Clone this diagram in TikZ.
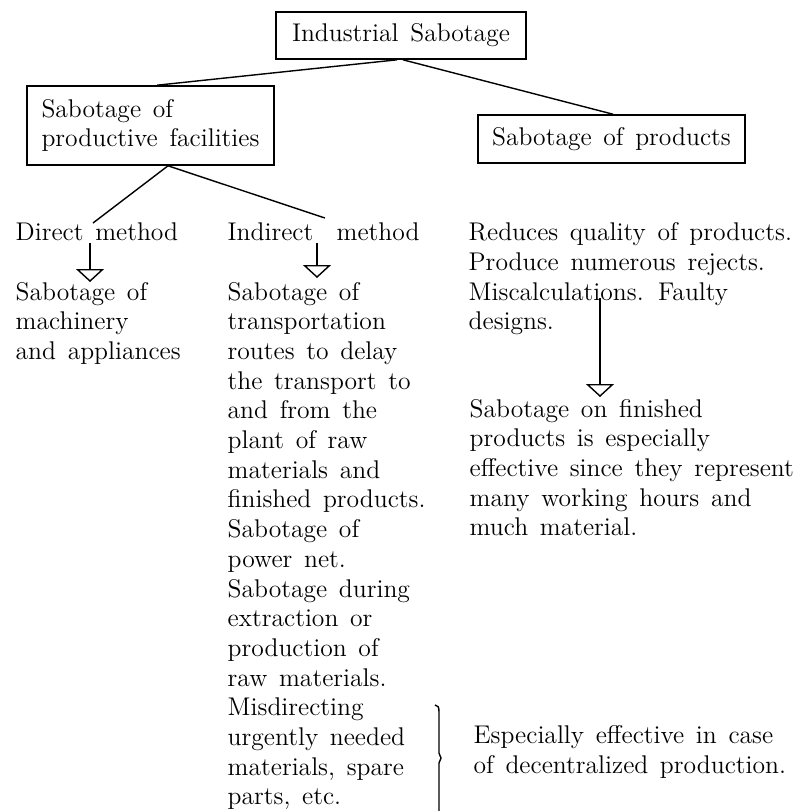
\documentclass[tikz,border=0pt]{standalone}
\usepackage{fontspec}
\setmainfont{Latin Modern Roman}[WordSpace=1.4]
\usetikzlibrary{arrows.meta}
\begin{document}
\begin{tikzpicture}[x=0.5pt,y=-0.5pt,line width=0.7pt,
  txt/.style={font=\fontsize{12.8}{14.85}\selectfont, align=left, inner sep=0pt, anchor=base west},
  box/.style={draw, line width=0.8pt, font=\fontsize{12.8}{14.85}\selectfont, align=left, inner sep=0pt},
  conn/.style={line width=0.7pt},
  openarrow/.style={conn, -{Triangle[open,width=14pt,length=6.5pt,line width=0.7pt]}}]
\useasboundingbox (0,0) rectangle (797,811);

% boxes
\node[box, minimum width=125pt, minimum height=23.5pt] (top) at (401,35.5) {Industrial Sabotage};
\node[box, minimum width=123.5pt, minimum height=39.5pt] (lbox) at (150.5,125.5) {Sabotage of\\productive facilities};
\node[box, minimum width=133.5pt, minimum height=24pt] (rbox) at (611.5,139) {Sabotage of products};

% texts (anchor base = baseline of the last line)
\node[txt] (direct) at (15,240) {Direct method};
\node[txt] (indirect) at (227,240) {Indirect\ \ method};
\node[txt] (dres) at (15,359.4) {Sabotage of\\machinery\\and appliances};
\node[txt] (ires) at (227,804.9) {Sabotage of\\transportation\\routes to delay\\the transport to\\and from the\\plant of raw\\materials and\\finished products.\\Sabotage of\\power net.\\Sabotage during\\extraction or\\production of\\raw materials.\\Misdirecting\\urgently needed\\materials, spare\\parts, etc.};
\node[txt] (prod) at (468,329.7) {Reduces quality of products.\\Produce numerous rejects.\\Miscalculations. Faulty\\designs.};
\node[txt] (fin) at (469,535.8) {Sabotage on finished\\products is especially\\effective since they represent\\many working hours and\\much material.};
\node[txt] (dec) at (473,773.5) {Especially effective in case\\of decentralized production.};

% connector ends
\coordinate (dtop) at (93,223);
\coordinate (itop) at (325,218);
\coordinate (ds) at (90,243);
\coordinate (de) at (90,282);
\coordinate (is) at (317,243);
\coordinate (ie) at (317,278);
\coordinate (ps) at (600,298);
\coordinate (pe) at (600,397);

% tree lines
\draw[conn] ([xshift=-2pt]top.south) -- ([xshift=3.25pt]lbox.north);
\draw[conn] ([xshift=1pt]top.south) -- ([xshift=0.75pt]rbox.north);
\draw[conn] ([xshift=8.75pt]lbox.south) -- (dtop);
\draw[conn] ([xshift=8.75pt]lbox.south) -- (itop);

% arrows
\draw[openarrow] (ds) -- (de);
\draw[openarrow] (is) -- (ie);
\draw[openarrow] (ps) -- (pe);

% brace
\draw[conn] (435,705) .. controls (438,705) and (439,707) .. (439,712) -- (439,753) -- (441,758) -- (439,763) -- (439,811);
\end{tikzpicture}
\end{document}
